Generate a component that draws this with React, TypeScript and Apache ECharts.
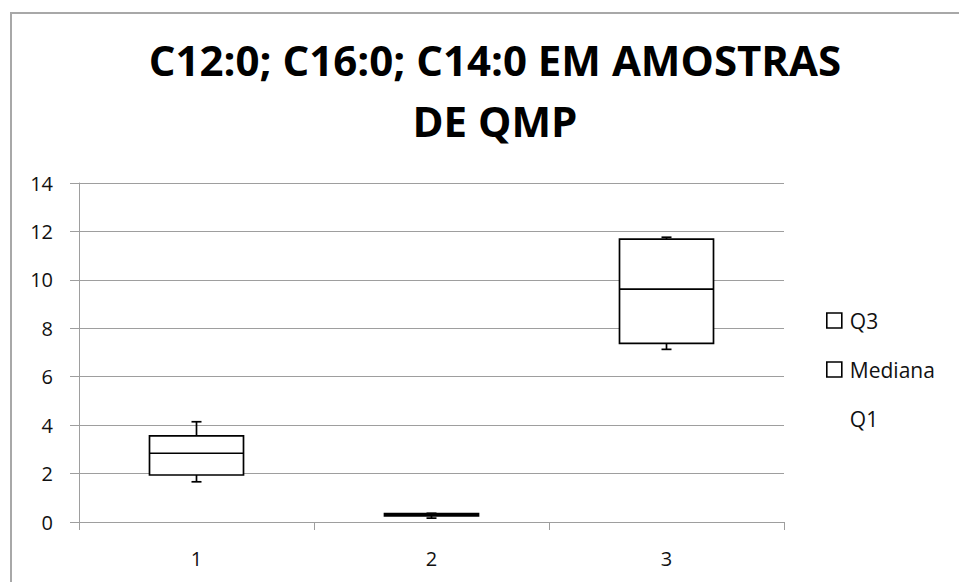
import React, { useEffect, useRef } from "react";
import * as echarts from "echarts";

// ---- data ----
const categories = ["1", "2", "3"];
const minValues = [1.66, 0.16, 7.13];
const q1Values = [1.94, 0.25, 7.38];
const medianValues = [2.84, 0.3, 9.62];
const q3Values = [3.56, 0.35, 11.68];
const maxValues = [4.14, 0.36, 11.76];
const legendNames = ["Q3", "Mediana", "Q1"];
const yMin = 0;
const yMax = 14;
const yInterval = 2;
const titleText = "C12:0; C16:0; C14:0 EM AMOSTRAS\nDE QMP";

const FONT = "'Open Sans', 'Noto Sans', sans-serif";
const GRID_COLOR = "#9e9e9e";
const TEXT_COLOR = "#111111";

export default function App() {
  const ref = useRef<HTMLDivElement>(null);

  useEffect(() => {
    if (!ref.current) return;
    const chart = echarts.init(ref.current, null, { renderer: "svg" });

    const medianPart = medianValues.map((m, i) => +(m - q1Values[i]).toFixed(4));
    const q3Part = q3Values.map((q, i) => +(q - medianValues[i]).toFixed(4));
    const boxData = categories.map((_, i) => [
      i,
      minValues[i],
      q1Values[i],
      medianValues[i],
      q3Values[i],
      maxValues[i],
    ]);

    const fillStyle = { color: "#ffffff", borderWidth: 0 };
    const legendIconStyle = { color: "#ffffff", borderColor: "#000000", borderWidth: 1.6 };

    chart.setOption({
      animation: false,
      backgroundColor: "#ffffff",
      textStyle: { fontFamily: FONT },
      title: {
        text: titleText,
        left: 490,
        top: 24,
        textAlign: "center",
        textStyle: {
          fontFamily: FONT,
          fontWeight: "bold",
          fontSize: 42,
          lineHeight: 61,
          color: "#000000",
        },
      },
      graphic: [
        {
          type: "rect",
          shape: { x: 11, y: 13, width: 1200, height: 1200 },
          style: { fill: "none", stroke: "#a8a8a8", lineWidth: 2 },
          silent: true,
          z: -1,
        },
      ],
      legend: {
        data: [
          { name: legendNames[0], icon: "rect", itemStyle: legendIconStyle },
          { name: legendNames[1], icon: "rect", itemStyle: legendIconStyle },
          {
            name: legendNames[2],
            icon: "rect",
            itemStyle: { color: "rgba(0,0,0,0)", borderColor: "rgba(0,0,0,0)", borderWidth: 0 },
          },
        ],
        orient: "vertical",
        left: 826,
        top: 310,
        padding: 0,
        itemWidth: 15,
        itemHeight: 15,
        itemGap: 28,
        selectedMode: false,
        textStyle: {
          fontFamily: FONT,
          fontSize: 21,
          color: TEXT_COLOR,
          padding: [0, 0, 0, 3],
        },
      },
      grid: {
        left: 79,
        right: 175,
        top: 183,
        bottom: 60,
        containLabel: false,
      },
      xAxis: {
        type: "category",
        data: categories,
        axisLine: { show: true, lineStyle: { color: GRID_COLOR, width: 1 } },
        axisTick: { show: true, length: 8, lineStyle: { color: GRID_COLOR } },
        axisLabel: {
          margin: 26,
          fontSize: 20,
          fontFamily: FONT,
          color: TEXT_COLOR,
        },
        splitLine: { show: false },
      },
      yAxis: {
        type: "value",
        min: yMin,
        max: yMax,
        interval: yInterval,
        axisLine: { show: true, lineStyle: { color: GRID_COLOR, width: 1 } },
        axisTick: { show: true, length: 9, lineStyle: { color: GRID_COLOR } },
        axisLabel: {
          margin: 26,
          fontSize: 20,
          fontFamily: FONT,
          color: TEXT_COLOR,
        },
        splitLine: { show: true, lineStyle: { color: GRID_COLOR, width: 1 } },
      },
      series: [
        {
          name: "Q1",
          type: "bar",
          stack: "box",
          barWidth: "40%",
          data: q1Values,
          silent: true,
          itemStyle: { color: "rgba(0,0,0,0)", borderWidth: 0 },
        },
        {
          name: "Mediana",
          type: "bar",
          stack: "box",
          barWidth: "40%",
          data: medianPart,
          itemStyle: fillStyle,
        },
        {
          name: "Q3",
          type: "bar",
          stack: "box",
          barWidth: "40%",
          data: q3Part,
          itemStyle: fillStyle,
        },
        {
          name: "outline",
          type: "custom",
          data: boxData,
          encode: { x: 0, y: [1, 2, 3, 4, 5] },
          z: 5,
          renderItem: (params: any, api: any) => {
            const idx = api.value(0);
            const x = api.coord([idx, 0])[0];
            const bandW = api.size([1, 0])[0];
            const halfW = (bandW * 0.4) / 2;
            const yMinP = api.coord([idx, api.value(1)])[1];
            const yQ1 = api.coord([idx, api.value(2)])[1];
            const yMed = api.coord([idx, api.value(3)])[1];
            const yQ3 = api.coord([idx, api.value(4)])[1];
            const yMaxP = api.coord([idx, api.value(5)])[1];
            const cap = 5;
            const st = { stroke: "#000000", lineWidth: 1.7, fill: "none" };
            return {
              type: "group",
              children: [
                {
                  type: "rect",
                  shape: { x: x - halfW, y: yQ3, width: halfW * 2, height: yQ1 - yQ3 },
                  style: st,
                },
                { type: "line", shape: { x1: x - halfW, y1: yMed, x2: x + halfW, y2: yMed }, style: st },
                { type: "line", shape: { x1: x, y1: yQ3, x2: x, y2: yMaxP }, style: st },
                { type: "line", shape: { x1: x - cap, y1: yMaxP, x2: x + cap, y2: yMaxP }, style: st },
                { type: "line", shape: { x1: x, y1: yQ1, x2: x, y2: yMinP }, style: st },
                { type: "line", shape: { x1: x - cap, y1: yMinP, x2: x + cap, y2: yMinP }, style: st },
              ],
            };
          },
        },
      ],
    });

    return () => {
      chart.dispose();
    };
  }, []);

  return (
    <div
      ref={ref}
      style={{ position: "absolute", left: 0, top: 0, width: 959, height: 582 }}
    />
  );
}
